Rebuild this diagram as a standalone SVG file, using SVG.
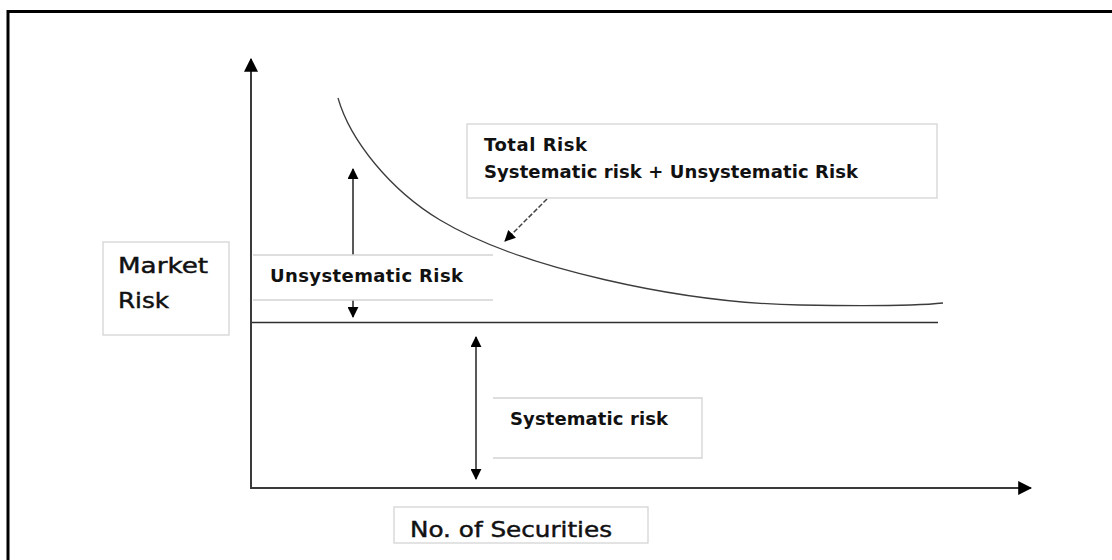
<svg xmlns="http://www.w3.org/2000/svg" width="1112" height="560" viewBox="0 0 1112 560">
<style>
.bg{fill:#ffffff}
.frame{fill:none;stroke:#000;stroke-width:3}
.axis{fill:none;stroke:#3a3a3a;stroke-width:2}
.level{fill:none;stroke:#2e2e2e;stroke-width:1.6}
.curve{fill:none;stroke:#3c3c3c;stroke-width:1.3}
.dbl{fill:none;stroke:#222;stroke-width:1.5}
.dash{fill:none;stroke:#444;stroke-width:1.5;stroke-dasharray:5 2}
.box{fill:#fff;stroke:#d4d4d4;stroke-width:1.3}
.boxfill{fill:#fff;stroke:none}
.edge{fill:none;stroke:#d4d4d4;stroke-width:1.3}
.b{font-family:"DejaVu Sans",Verdana,sans-serif;font-weight:bold;font-size:18px;fill:#111}
.r{font-family:"DejaVu Sans",Verdana,sans-serif;font-size:21px;fill:#111;stroke:#111;stroke-width:0.45}
</style>
<defs>
<marker id="ah" markerUnits="userSpaceOnUse" markerWidth="14" markerHeight="14" viewBox="0 0 12 12" refX="11" refY="6" orient="auto">
<path d="M0,0 L12,6 L0,12 Z" fill="#000"/>
</marker>
<marker id="ahs" markerUnits="userSpaceOnUse" markerWidth="11" markerHeight="11" viewBox="0 0 12 12" refX="11" refY="6" orient="auto-start-reverse">
<path d="M0,0 L12,6 L0,12 Z" fill="#000"/>
</marker>
</defs>
<rect class="bg" x="0" y="0" width="1112" height="560"/>
<path class="frame" d="M8,560 V11.5 H1112"/>

<g id="connectors">
<line id="y-axis" class="axis" x1="251" y1="488" x2="251" y2="59" marker-end="url(#ah)"/>
<line id="x-axis" class="axis" x1="250" y1="488" x2="1031" y2="488" marker-end="url(#ah)"/>
<line id="systematic-level" class="level" x1="252" y1="322.5" x2="938" y2="322.5"/>
<path id="total-risk-curve" class="curve" d="M338,98 C350,140 390,190 440,220 C520,268 680,303 800,305 C860,306 920,305.5 943,303"/>
<line id="unsys-arrow" class="dbl" x1="353" y1="169" x2="353" y2="317" marker-start="url(#ahs)" marker-end="url(#ahs)"/>
<line id="sys-arrow" class="dbl" x1="476" y1="337" x2="476" y2="479" marker-start="url(#ahs)" marker-end="url(#ahs)"/>
<line id="total-pointer" class="dash" x1="547" y1="199" x2="505" y2="241" marker-end="url(#ahs)"/>
</g>

<g id="node-market-risk">
<rect class="box" x="103" y="242" width="126" height="93"/>
<text class="r" x="118" y="273" textLength="90" lengthAdjust="spacingAndGlyphs">Market</text>
<text class="r" x="118" y="308" textLength="51" lengthAdjust="spacingAndGlyphs">Risk</text>
</g>

<g id="node-total-risk">
<rect class="box" x="467" y="124" width="470" height="74"/>
<text class="b" x="484" y="151" textLength="103" lengthAdjust="spacing">Total Risk</text>
<text class="b" x="484" y="178" textLength="374" lengthAdjust="spacing">Systematic risk + Unsystematic Risk</text>
</g>

<g id="node-unsystematic-risk">
<rect class="boxfill" x="253" y="255" width="240" height="45"/>
<path class="edge" d="M253,255 H493 M253,300 H493"/>
<text class="b" x="270" y="282" textLength="193" lengthAdjust="spacing">Unsystematic Risk</text>
</g>

<g id="node-systematic-risk">
<rect class="boxfill" x="493" y="398" width="209" height="60"/>
<path class="edge" d="M493,398 H702 V458 H493"/>
<text class="b" x="510" y="425" textLength="158" lengthAdjust="spacing">Systematic risk</text>
</g>

<g id="node-no-of-securities">
<rect class="box" x="394" y="507" width="254" height="36"/>
<text class="r" x="410" y="537" font-size="22" textLength="202" lengthAdjust="spacingAndGlyphs">No. of Securities</text>
</g>
</svg>
